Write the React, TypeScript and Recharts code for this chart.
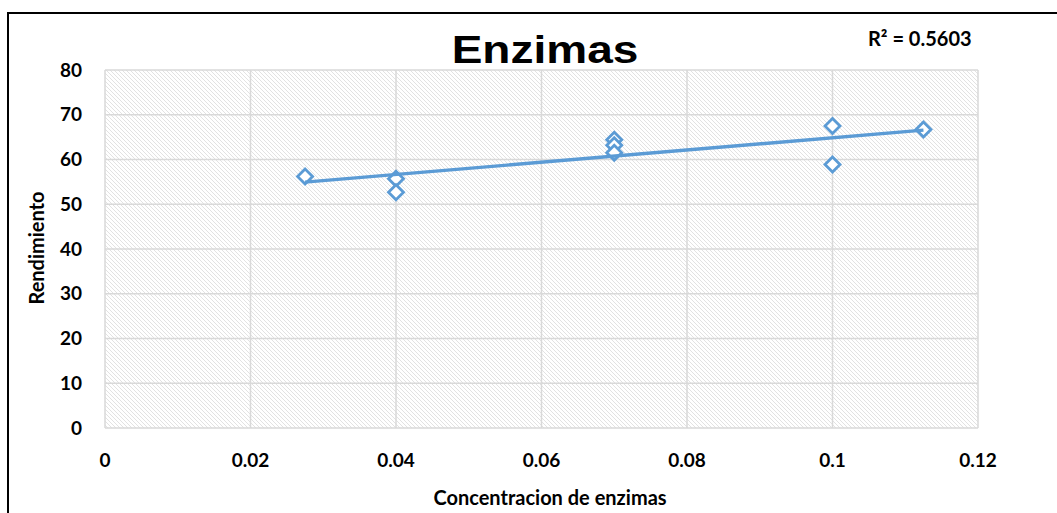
import { ScatterChart, Scatter, XAxis, YAxis, CartesianGrid } from "recharts";

// concentración de enzimas vs rendimiento
const concentracion = [0.0275, 0.04, 0.04, 0.07, 0.07, 0.07, 0.1, 0.1, 0.1125];
const rendimiento = [56.2, 55.7, 52.7, 64.4, 63.2, 61.5, 67.5, 58.9, 66.7];

const xTicks = [0, 0.02, 0.04, 0.06, 0.08, 0.1, 0.12];
const yTicks = [0, 10, 20, 30, 40, 50, 60, 70, 80];

const R2_LABEL = "R² = 0.5603";

const BLUE = "#5b9bd5";
const GRID = "#d9d9d9";
const FONT = "Lato, 'Open Sans', sans-serif";

const points = concentracion.map((x, i) => ({ x, y: rendimiento[i] }));

// recta de mínimos cuadrados sobre los puntos
function fitLine(xs: number[], ys: number[]) {
  const n = xs.length;
  const mx = xs.reduce((a, b) => a + b, 0) / n;
  const my = ys.reduce((a, b) => a + b, 0) / n;
  let sxy = 0;
  let sxx = 0;
  for (let i = 0; i < n; i++) {
    sxy += (xs[i] - mx) * (ys[i] - my);
    sxx += (xs[i] - mx) ** 2;
  }
  const m = sxy / sxx;
  const b = my - m * mx;
  const x0 = Math.min(...xs);
  const x1 = Math.max(...xs);
  return [
    { x: x0, y: m * x0 + b },
    { x: x1, y: m * x1 + b },
  ];
}

const trend = fitLine(concentracion, rendimiento);

// eslint-disable-next-line @typescript-eslint/no-explicit-any
function Diamond({ cx, cy }: any) {
  if (cx == null || cy == null) return null;
  const r = 7.5;
  return (
    <path
      d={`M${cx},${cy - r} L${cx + r},${cy} L${cx},${cy + r} L${cx - r},${cy} Z`}
      fill="#fff"
      stroke={BLUE}
      strokeWidth={2.8}
      strokeLinejoin="miter"
    />
  );
}

const tickStyle = { fontSize: 19, fontWeight: 700, fill: "#000", fontFamily: FONT };

const textBase = {
  position: "absolute" as const,
  fontFamily: FONT,
  fontWeight: 700,
  fontSize: 20,
  lineHeight: "24px",
  whiteSpace: "nowrap" as const,
};

export default function App() {
  return (
    <div
      style={{
        position: "fixed",
        left: 0,
        top: 0,
        width: 1057,
        height: 513,
        overflow: "hidden",
        background: "#fff",
      }}
    >
      <div
        style={{
          position: "absolute",
          left: 7,
          top: 12,
          width: 1100,
          height: 600,
          border: "2px solid #000",
          boxSizing: "border-box",
        }}
      />
      <div style={{ position: "absolute", left: 0, top: 0 }}>
        <ScatterChart
          width={1057}
          height={513}
          margin={{ top: 70, right: 79, bottom: 45, left: 45 }}
        >
          <defs>
            <pattern id="hatch" width={4} height={4} patternUnits="userSpaceOnUse">
              <rect width={4} height={4} fill="#fff" />
              <path d="M-1,-1 L5,5 M-1,3 L1,5 M3,-1 L5,1" stroke="#e2e2e2" strokeWidth={1} />
            </pattern>
          </defs>
          <CartesianGrid
            fill="url(#hatch)"
            stroke={GRID}
            strokeWidth={1.5}
            horizontalValues={yTicks}
            verticalValues={xTicks}
          />
          <XAxis
            type="number"
            dataKey="x"
            domain={[0, 0.12]}
            ticks={xTicks}
            tickFormatter={(v) => String(v)}
            axisLine={false}
            tickLine={false}
            tickSize={0}
            tickMargin={26}
            height={40}
            tick={tickStyle}
            allowDataOverflow
          />
          <YAxis
            type="number"
            dataKey="y"
            domain={[0, 80]}
            ticks={yTicks}
            axisLine={false}
            tickLine={false}
            tickSize={0}
            tickMargin={23}
            width={60}
            tick={tickStyle}
          />
          <Scatter data={points} shape={<Diamond />} isAnimationActive={false} />
          <Scatter
            data={trend}
            line={{ stroke: BLUE, strokeWidth: 3.4 }}
            shape={() => null}
            isAnimationActive={false}
          />
        </ScatterChart>
      </div>
      <div
        style={{
          position: "absolute",
          left: 545,
          top: 30,
          transform: "translateX(-50%) scaleX(1.18)",
          fontFamily: "'Liberation Sans', Arial, sans-serif",
          fontWeight: 700,
          fontSize: 39,
          lineHeight: "39px",
          whiteSpace: "nowrap",
        }}
      >
        Enzimas
      </div>
      <div style={{ ...textBase, left: 868, top: 26 }}>{R2_LABEL}</div>
      <div style={{ ...textBase, left: 550, top: 485, transform: "translateX(-50%)" }}>
        Concentracion de enzimas
      </div>
      <div
        style={{
          ...textBase,
          left: 36,
          top: 248,
          transform: "translate(-50%, -50%) rotate(-90deg)",
        }}
      >
        Rendimiento
      </div>
    </div>
  );
}
